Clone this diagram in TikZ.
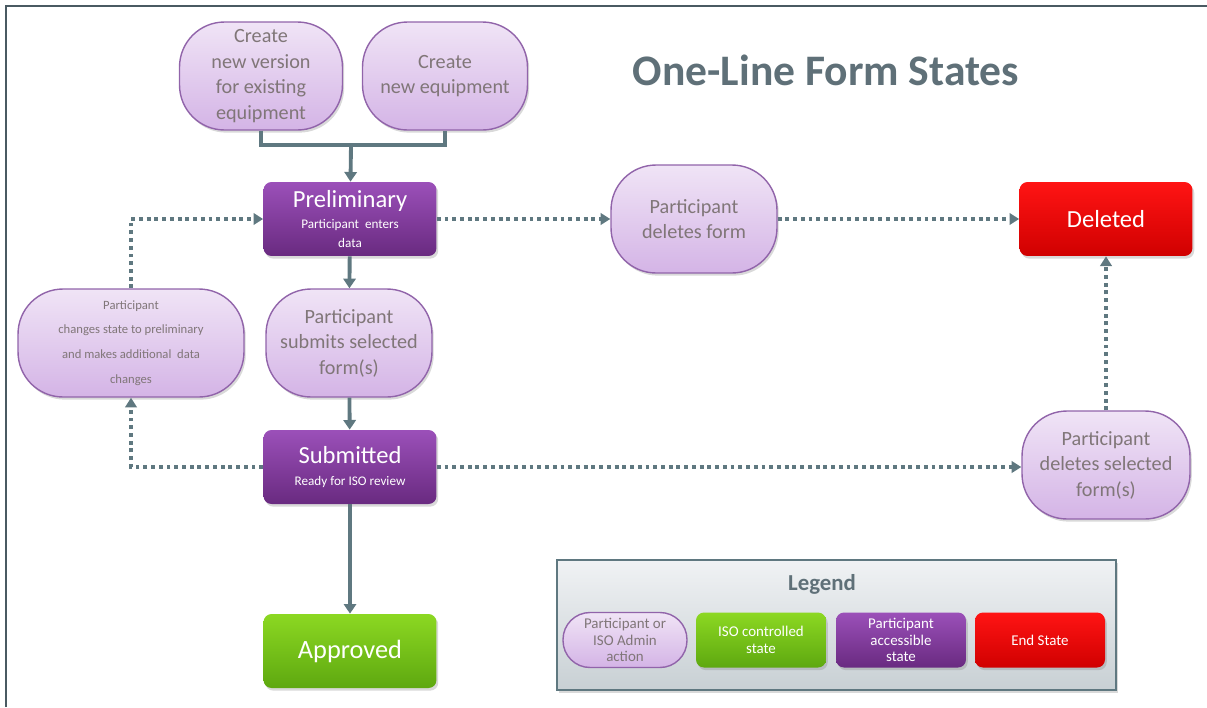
\documentclass[tikz,border=0pt]{standalone}
\usepackage{fontspec}
\setmainfont{Carlito}
\usetikzlibrary{arrows.meta,shadows}

\definecolor{lineclr}{RGB}{95,120,128}
\definecolor{frameclr}{RGB}{74,90,98}
\definecolor{titleclr}{RGB}{95,112,120}
\definecolor{acttop}{RGB}{240,228,246}
\definecolor{actbot}{RGB}{212,180,230}
\definecolor{actborder}{RGB}{145,100,170}
\definecolor{acttext}{RGB}{128,118,120}
\definecolor{purptop}{RGB}{155,80,185}
\definecolor{purpbot}{RGB}{105,42,128}
\definecolor{greentop}{RGB}{140,216,34}
\definecolor{greenbot}{RGB}{94,168,16}
\definecolor{redtop}{RGB}{255,20,20}
\definecolor{redbot}{RGB}{208,0,0}
\definecolor{legtop}{RGB}{240,242,244}
\definecolor{legbot}{RGB}{200,208,212}

\begin{document}
\begin{tikzpicture}[x=0.02cm,y=-0.02cm,
	box_shadow/.style={drop shadow={opacity=0.3,shadow xshift=1pt,shadow yshift=-1.5pt}},
	action_node/.style={draw=actborder,line width=0.8pt,rounded corners=0.9cm,top color=acttop,bottom color=actbot,text=acttext,align=center,inner sep=2pt,minimum height=2.16cm,box_shadow,font=\fontsize{11.5}{14.5}\selectfont},
	state_node/.style={rounded corners=0.16cm,text=white,align=center,inner sep=2pt,minimum width=3.46cm,minimum height=1.48cm,box_shadow,font=\fontsize{7.5}{11}\selectfont},
	purple_node/.style={state_node,top color=purptop,bottom color=purpbot},
	green_node/.style={state_node,top color=greentop,bottom color=greenbot},
	red_node/.style={state_node,top color=redtop,bottom color=redbot},
	legend_item/.style={minimum width=2.6cm,minimum height=1.1cm,rounded corners=0.16cm,font=\fontsize{8.5}{9.5}\selectfont},
	flow/.style={draw=lineclr,line width=2.2pt,-{Triangle[width=7pt,length=5.5pt]}},
	dotflow/.style={draw=lineclr,line width=2.2pt,dash pattern=on 2.2pt off 2.2pt,-{Triangle[width=6.5pt,length=5.5pt]}}]
	\useasboundingbox (0,0) rectangle (1207,707);
	% frame
	\draw[frameclr,line width=1.3pt] (6,707) -- (6,6) -- (1207,6);

	\node[text=titleclr,font=\fontsize{24.8}{29}\selectfont\bfseries] (title) at (826,70) {One-Line Form States};

	% creation actions
	\node[action_node,minimum width=3.26cm] (newver) at (261,76) {Create\\new version\\for existing\\equipment};
	\node[action_node,minimum width=3.3cm] (neweq) at (445,76) {Create\\new equipment};
	\coordinate (join) at (351,145);

	% states
	\node[purple_node] (prelim) at (350,219) {{\fontsize{14}{16}\selectfont Preliminary}\\[1pt]Participant\ \ enters\\data};
	\node[purple_node] (sub) at (350,467) {{\fontsize{14}{16}\selectfont Submitted}\\[2pt]Ready for ISO review};
	\node[green_node,font=\fontsize{15}{17}\selectfont] (appr) at (350,651) {Approved};
	\node[red_node,font=\fontsize{14}{16}\selectfont] (del) at (1106,219) {Deleted};

	% participant actions
	\node[action_node,minimum width=3.32cm] (submit) at (349,343) {Participant\\submits selected\\form(s)};
	\node[action_node,minimum width=4.52cm,font=\fontsize{7.2}{14}\selectfont] (chg) at (131,343) {Participant\\changes state to preliminary\\and makes additional\ \ data\\changes};
	\node[action_node,minimum width=3.32cm] (delform) at (694,219) {Participant\\deletes form};
	\node[action_node,minimum width=3.36cm] (delsel) at (1106,465) {Participant\\deletes selected\\form(s)};

	\draw[draw=lineclr,line width=2.2pt] (newver.south) |- (join) -| (neweq.south);
	\draw[flow] (join) -- (prelim);
	\draw[flow] (prelim) -- (submit);
	\draw[flow] (submit) -- (sub);
	\draw[flow] (sub) -- (appr);

	\draw[dotflow] (sub.west) -| (chg.south);
	\draw[dotflow] (chg.north) |- (prelim.west);
	\draw[dotflow] (prelim.east) -- (delform.west);
	\draw[dotflow] (delform.east) -- (del.west);
	\draw[dotflow] (sub.east) -- (delsel.west |- sub.east);
	\draw[dotflow] (delsel.north) -- (del.south);

	% legend
	\node[draw=lineclr,line width=1pt,top color=legtop,bottom color=legbot,minimum width=11.18cm,minimum height=2.6cm,box_shadow] (legend) at (836.5,625) {};
	\node[text=titleclr,font=\fontsize{13}{15}\selectfont\bfseries] (legtitle) at (822,584) {Legend};
	\node[legend_item,draw=actborder,line width=0.8pt,top color=acttop,bottom color=actbot,text=acttext,rounded corners=0.54cm,minimum width=2.48cm,align=center,inner sep=1pt] (legact) at (625,640) {Participant or\\ISO Admin\\action};
	\node[legend_item,green_node,minimum width=2.6cm,minimum height=1.1cm,font=\fontsize{8.5}{9.5}\selectfont] (legiso) at (761,640) {ISO controlled\\state};
	\node[legend_item,purple_node,minimum width=2.6cm,minimum height=1.1cm,font=\fontsize{8.5}{9.5}\selectfont] (legpart) at (901,640) {Participant\\accessible\\state};
	\node[legend_item,red_node,minimum width=2.6cm,minimum height=1.1cm,font=\fontsize{8.5}{9.5}\selectfont] (legend_end) at (1040,640) {End State};
\end{tikzpicture}
\end{document}
